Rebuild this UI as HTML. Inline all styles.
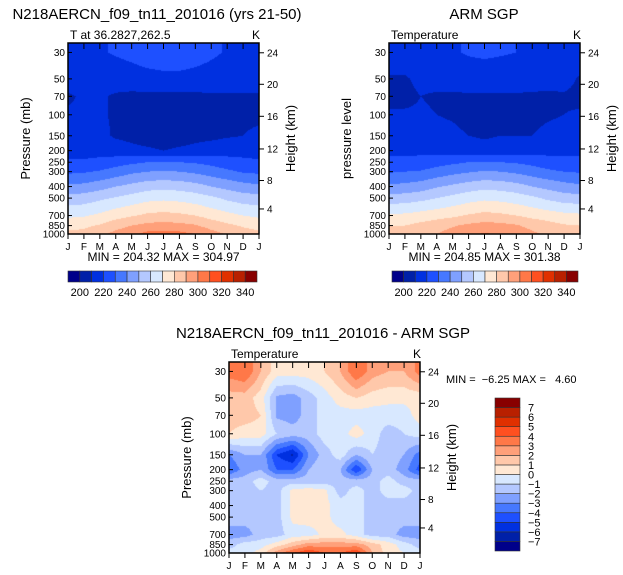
<!DOCTYPE html>
<html><head><meta charset="utf-8"><style>
body{margin:0;background:#fff;width:623px;height:575px;overflow:hidden;position:relative;font-family:"Liberation Sans",sans-serif;}
svg{position:absolute;left:0;top:0}
svg text{white-space:pre}
canvas{position:absolute}
</style></head><body>
<canvas id="c1" width="191" height="191" style="left:68px;top:43px"></canvas>
<canvas id="c2" width="191" height="191" style="left:389px;top:43px"></canvas>
<canvas id="c3" width="191" height="191" style="left:229px;top:362px"></canvas>
<svg id="s" width="623" height="575"></svg>
<script>
const months=["J","F","M","A","M","J","J","A","S","O","N","D","J"];
const levels=[25,30,50,70,100,150,200,250,300,400,500,700,850,1000];
const pTicks=[30,50,70,100,150,200,250,300,400,500,700,850,1000];
const hTicks=[24,20,16,12,8,4];
const hTickP=[30.2,55.5,103,193.5,356,616.5];
const tempLevels=[200,210,220,230,240,250,260,270,280,290,300,310,320,330,340];
const tempLabels=[200,220,240,260,280,300,320,340];
const diffLevels=[-7,-6,-5,-4,-3,-2,-1,0,1,2,3,4,5,6,7];
const colors=["#00008a","#0020a8","#0030e0","#1e50ff","#4678ff","#7fa0ff","#b4c8ff","#d8e8ff","#ffe8d4","#ffc8aa","#ffa07a","#ff7848","#ff5020","#e03000","#b82000","#880000"];
const modelT=[
[218,218,219,221,223,226,227,227,225,222,219,218,218],
[218,218,219,221,223,226,227,227,225,222,219,218,218],
[214,214,214,214,215,216,217,217,216,215,214,214,214],
[209,211,211,209,208,208,208,208,208,209,209,209,209],
[211,211,211,209,207,206,206,206,207,208,209,209,209],
[213,213,212,209,208,207,207,207,208,208,209,210,211],
[217,217,216,214,212,211,210,211,212,214,216,217,217],
[221,221,223,226,228,230,231,230,229,227,224,222,221],
[228,229,231,234,238,240,241,240,238,235,232,229,228],
[242,243,246,250,253,256,257,256,254,250,247,244,242],
[254,255,258,261,264,267,268,267,265,262,258,255,254],
[268,269,272,276,279,282,283,282,280,276,273,270,268],
[277,278,281,286,290,293,294,293,291,286,282,279,277],
[282,283,288,293,298,303,304,303,300,294,289,284,282]];
const obsT=[
[216,216,217,218,219,221,222,221,220,218,217,216,216],
[216,216,217,218,219,221,222,221,220,218,217,216,216],
[209,209,212,213,213,214,214,214,214,213,212,213,209],
[208,208,210,209,209,209,209,209,209,209,209,209,208],
[211,211,211,210,209,207,207,207,208,208,209,210,211],
[213,213,213,213,212,210,209,210,210,210,212,213,213],
[218,218,218,217,216,214,213,214,215,216,217,218,218],
[222,222,223,226,228,230,231,230,229,227,224,222,222],
[229,230,231,234,237,239,241,240,238,235,232,230,229],
[242,243,245,249,252,255,257,256,254,250,247,244,242],
[254,255,257,260,263,266,268,267,265,262,258,255,254],
[272,272,274,276,278,281,283,282,280,277,275,273,272],
[280,280,283,286,289,292,294,293,291,287,284,281,280],
[282,283,286,290,294,298,301,299,296,292,288,284,282]];
const diffT=[
[3.5,4,2,0.5,0.5,0.5,1,2,4,2.5,2,2,3.5],
[3.5,4,2,0.5,0.5,0.5,1,2,4,2.5,2,2,3.5],
[1.5,1.5,0.5,-2.2,-2.5,-1.5,-0.5,0.5,1,0.5,0.3,0.3,0.3],
[1.5,1.5,1,-2.2,-2.5,-1.5,-0.5,-0.5,-0.5,-0.5,-0.5,-0.5,0.5],
[1,0.5,0.5,-1,-1.5,-1.5,-0.5,-0.5,0.5,-0.5,-1.5,-1,-0.5],
[-3,-2,-2,-5,-6.2,-3,-1.5,-0.5,-2,-1,-1.5,-2,-3.5],
[-4,-2.5,-2,-4,-4,-2,-1,-2,-5,-2,-1.5,-2.5,-4.5],
[-1.5,-1.5,-0.5,-1.5,-1.5,-1.5,-1.5,-1.5,-1.5,-1.5,-0.5,-1.5,-1.5],
[-1.5,-1.5,-1,-1.5,0.3,0.5,0.3,-1.5,-0.5,-1.5,-0.5,-0.5,-1.5],
[-1.5,-1.5,-1.5,-1.5,0.3,0.5,0.3,-0.5,-0.5,-1.5,-1.5,-1.5,-1.5],
[-1.5,-1.5,-1.5,-1.5,0.3,0.5,0.3,-0.5,-0.5,-1.5,-1.5,-1.5,-1.5],
[-2.5,-2.5,-1.5,-1.5,-0.5,-0.5,0.3,0.3,-0.5,-1.5,-1.5,-2.5,-2.5],
[-1.5,-0.5,-0.5,0.5,1.5,2.5,2.5,2.5,2.5,1.5,0.5,-0.5,-1.5],
[-0.5,-0.5,0.5,2.5,4,5,4,4,5,2,0.5,0,-0.5]];

const W=191,H=191,lnTop=Math.log(25),lnBot=Math.log(1000);
function yOfP(p){return H*(Math.log(p)-lnTop)/(lnBot-lnTop);}
function xOfM(i){return W*i/12;}
function binColor(v,lv){let k=0;while(k<lv.length&&v>=lv[k])k++;return colors[k];}
function drawField(id,data,lv){
  const ctx=document.getElementById(id).getContext('2d');
  const ly=levels.map(p=>yOfP(p));
  for(let py=0;py<H;py++){
    const yy=py+0.5;let j=0;while(j<levels.length-2&&ly[j+1]<yy)j++;
    const t=Math.max(0,Math.min(1,(yy-ly[j])/(ly[j+1]-ly[j])));
    for(let px=0;px<W;px++){
      const xm=(px+0.5)/W*12;const i=Math.min(11,Math.floor(xm));const s=xm-i;
      const a=data[j][i]*(1-s)+data[j][i+1]*s,b=data[j+1][i]*(1-s)+data[j+1][i+1]*s;
      ctx.fillStyle=binColor(a*(1-t)+b*t,lv);ctx.fillRect(px,py,1,1);
    }
  }
}
drawField('c1',modelT,tempLevels);drawField('c2',obsT,tempLevels);drawField('c3',diffT,diffLevels);

const S=document.getElementById('s'),NS='http://www.w3.org/2000/svg';
function el(tag,attrs,txt){const e=document.createElementNS(NS,tag);for(const k in attrs)e.setAttribute(k,attrs[k]);if(txt!==undefined)e.textContent=txt;S.appendChild(e);return e;}
function txt(x,y,s,size,anchor,name,rot){const e=el('text',{x:x,y:y,'font-size':size,'text-anchor':anchor||'start',fill:'#000','font-family':'Liberation Sans, sans-serif'},s);if(rot)e.setAttribute('transform','rotate(-90 '+x+' '+y+')');return e;}
function panel(x0,y0,sub,leftTitle,minmax,pre){
  const f=el('rect',{x:x0,y:y0,width:W,height:H,fill:'none',stroke:'#000','stroke-width':1.5});
  
  pTicks.forEach(p=>{const y=y0+yOfP(p);
    el('line',{x1:x0,x2:x0+4,y1:y,y2:y,stroke:'#000'});
    txt(x0-3,y+3.5,String(p),10,'end',pre+'-pressure-tick');});
  hTicks.forEach((h,k)=>{const y=y0+yOfP(hTickP[k]);
    el('line',{x1:x0+W,x2:x0+W+5,y1:y,y2:y,stroke:'#000'});
    txt(x0+W+8,y+3.5,String(h),10,'start',pre+'-height-tick');});
  months.forEach((m,i)=>{const x=x0+xOfM(i);
    el('line',{x1:x,x2:x,y1:y0+H,y2:y0+H+5,stroke:'#000'});
    el('line',{x1:x,x2:x,y1:y0,y2:y0+6,stroke:'#000'});
    txt(x,y0+H+16,m,10,'middle',pre+'-month-label');});
  txt(x0+2,y0-4,sub,12,'start',pre+'-subtitle');
  txt(x0+W-3,y0-4,'K',12,'middle',pre+'-units');
  txt(x0-38,y0+H/2,leftTitle,13,'middle',pre+'-y-axis-title',true);
  txt(x0+W+36,y0+H/2,'Height (km)',13,'middle',pre+'-right-axis-title',true);
  if(minmax)txt(x0+W/2,y0+H+27,minmax,12,'middle',pre+'-min-max');
}
panel(68,43,'T at 36.2827,262.5','Pressure (mb)','MIN = 204.32 MAX = 304.97','model');
panel(389,43,'Temperature','pressure level','MIN = 204.85 MAX = 301.38','obs');
panel(229,362,'Temperature','Pressure (mb)','','diff');
txt(157,19,'N218AERCN_f09_tn11_201016 (yrs 21-50)',15,'middle','model-title');
txt(484,19,'ARM SGP',15,'middle','obs-title');
txt(323,338,'N218AERCN_f09_tn11_201016 - ARM SGP',15,'middle','diff-title');
txt(446,383,'MIN =  \u22126.25 MAX =   4.60',11,'start','diff-min-max');
function hbar(x0,y0,w,pre){const bw=w/16;
  colors.forEach((c,k)=>{const r=el('rect',{x:x0+k*bw,y:y0,width:bw,height:11,fill:c,stroke:'#333','stroke-width':0.6});
    });
  tempLabels.forEach((v,k)=>txt(x0+bw*(1+2*k),y0+25,String(v),11,'middle',pre+'-colorbar-label'));}
hbar(68,271,189,'model');hbar(392,271,186,'obs');
const bh=(551-398)/16;
colors.forEach((c,k)=>{const r=el('rect',{x:495,y:551-(k+1)*bh,width:25,height:bh,fill:c,stroke:'#333','stroke-width':0.6});
  });
diffLevels.forEach((v,k)=>txt(528,551-(k+1)*bh+4,(v<0?'\u2212'+(-v):String(v)),11,'start','diff-colorbar-label'));
</script>
</body></html>
